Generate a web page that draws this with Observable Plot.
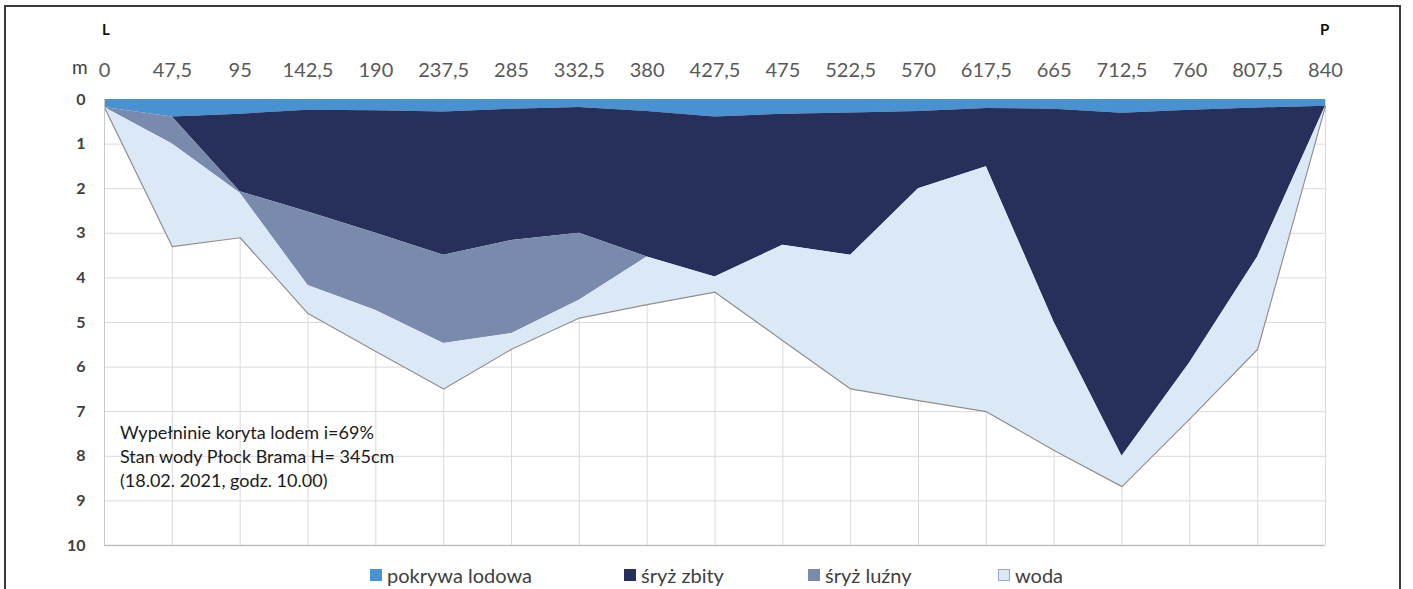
<!DOCTYPE html>
<html>
<head>
<meta charset="utf-8">
<script src="https://cdn.jsdelivr.net/npm/d3@7"></script>
<script src="https://cdn.jsdelivr.net/npm/@observablehq/plot@0.6"></script>
<style>
  html, body { margin: 0; padding: 0; background: #fff; }
  #wrap { position: relative; width: 1413px; height: 589px; overflow: hidden; font-family: Lato, "Open Sans", sans-serif; }
  #frame { position: absolute; left: 4px; top: 5px; width: 1397px; height: 640px; border: 2px solid #3a3a3a; box-sizing: border-box; pointer-events: none; }
  #chart { position: absolute; left: 0; top: 0; }
  .lbl { position: absolute; font-family: Lato, sans-serif; white-space: nowrap; }
  .bold { font-weight: bold; font-size: 15px; color: #111; }
  #note { position: absolute; left: 120px; top: 420px; font-size: 18px; line-height: 24px; color: #1a1a1a; font-family: Lato, sans-serif; }
  .leg { position: absolute; top: 563px; font-size: 20px; color: #404040; display: flex; align-items: center; font-family: Lato, sans-serif; white-space: nowrap; }
  .sw { width: 12px; height: 12px; margin-right: 5px; box-sizing: border-box; }
</style>
</head>
<body>
<div id="wrap">
  <div id="chart"></div>
  <div class="lbl bold" style="left:102px; top:20px;">L</div>
  <div class="lbl bold" style="left:1320px; top:20px;">P</div>
  <div class="lbl" style="left:72px; top:55px; font-size:19px; color:#404040;">m</div>
  <div id="note">Wypełninie koryta lodem i=69%<br>Stan wody Płock Brama H= 345cm<br>(18.02. 2021, godz. 10.00)</div>
  <div id="legend"></div>
  <div id="frame"></div>
</div>
<script>
// Categories (distance from left bank, m)
const categories = ["0","47,5","95","142,5","190","237,5","285","332,5","380","427,5","475","522,5","570","617,5","665","712,5","760","807,5","840"];
// Layer thicknesses (m), stacked from the surface downward
const pokrywaLodowa = [0.18,0.39,0.33,0.24,0.25,0.28,0.22,0.18,0.27,0.39,0.33,0.30,0.27,0.20,0.22,0.31,0.24,0.19,0.15];
const sryzZbity     = [0,0,1.74,2.28,2.75,3.21,2.94,2.82,3.26,3.59,2.94,3.19,1.73,1.31,4.78,7.69,5.66,3.34,0];
const sryzLuzny     = [0,0.61,0.03,1.65,1.73,1.98,2.09,1.50,0,0,0,0,0,0,0,0,0,0,0];
const woda          = [0,2.30,1.00,0.63,0.92,1.02,0.35,0.40,1.07,0.34,2.14,3.00,4.75,5.49,2.87,0.68,1.26,2.07,0];
// Depth ticks
const yTicks = [0,1,2,3,4,5,6,7,8,9,10];
const seriesNames = ["pokrywa lodowa","śryż zbity","śryż luźny","woda"];
const seriesColors = ["#4892d2","#26305b","#7a8aad","#dbe8f5"];

const seriesValues = [pokrywaLodowa, sryzZbity, sryzLuzny, woda];
const long = seriesNames.flatMap((name, k) => seriesValues[k].map((v, i) => ({i, v, s: name})));
const totals = categories.map((c, i) => ({i, t: pokrywaLodowa[i] + sryzZbity[i] + sryzLuzny[i] + woda[i]}));
const idx = categories.map((c, i) => i);

const chart = Plot.plot({
  width: 1413,
  height: 555,
  marginTop: 99,
  marginLeft: 104,
  marginRight: 88,
  marginBottom: 10,
  style: {fontFamily: "Lato, sans-serif", background: "transparent"},
  x: {domain: [0, categories.length - 1]},
  y: {domain: [0, 10], reverse: true},
  color: {domain: seriesNames, range: seriesColors},
  marks: [
    Plot.gridY(yTicks.slice(1, -1), {stroke: "#d9d9d9", strokeOpacity: 1}),
    Plot.gridX(idx.slice(1), {stroke: "#d9d9d9", strokeOpacity: 1}),
    Plot.areaY(long, {x: "i", y: "v", fill: "s", order: seriesNames}),
    Plot.lineY(totals, {x: "i", y: "t", stroke: "#8e8e8e", strokeWidth: 1.2}),
    Plot.ruleX([0], {stroke: "#c8c8c8"}),
    Plot.ruleY([10], {stroke: "#bfbfbf", strokeWidth: 1.5}),
    Plot.axisX(idx, {anchor: "top", tickSize: 0, tickPadding: 23, tickFormat: i => categories[i], fontSize: 20, fill: "#595959", label: null}),
    Plot.axisY(yTicks, {anchor: "left", tickSize: 0, tickPadding: 19, fontSize: 16, fontWeight: "bold", fill: "#404040", label: null})
  ]
});
document.getElementById("chart").appendChild(chart);

// Legend
const legendLeft = [370, 624, 808, 998];
const legend = document.getElementById("legend");
seriesNames.forEach((name, k) => {
  const item = document.createElement("div");
  item.className = "leg";
  item.style.left = legendLeft[k] + "px";
  const sw = document.createElement("div");
  sw.className = "sw";
  sw.style.background = seriesColors[k];
  if (k === 3) sw.style.border = "1px solid #9aa6b5";
  item.appendChild(sw);
  const t = document.createElement("span");
  t.textContent = name;
  item.appendChild(t);
  legend.appendChild(item);
});
</script>
</body>
</html>
